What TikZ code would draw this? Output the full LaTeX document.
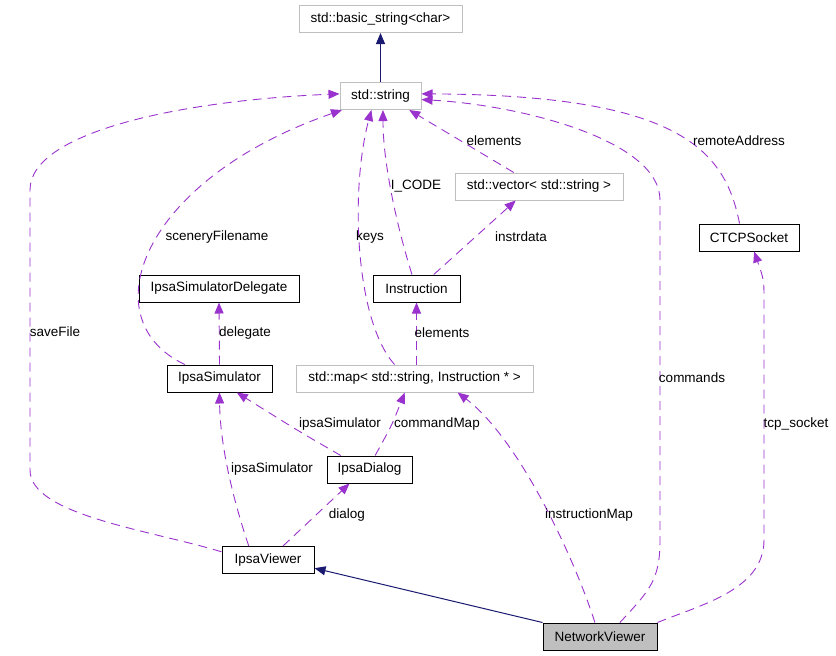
\documentclass[tikz,border=0pt]{standalone}
\usepackage{fontspec}
\setmainfont{Liberation Sans}
\usepackage{tikz}
\usetikzlibrary{arrows.meta,calc}
\definecolor{usage}{HTML}{9A32CD}
\definecolor{inherit}{HTML}{191970}
\definecolor{undoc}{HTML}{BFBFBF}

\begin{document}
\begin{tikzpicture}[x=1pt,y=-1pt,
    font=\fontsize{13.5}{16}\selectfont,
    box/.style={draw=black,line width=1pt,inner sep=0pt,minimum height=27pt},
    ubox/.style={box,draw=undoc},
    lbl/.style={inner sep=0pt},
    use/.style={-{Triangle[length=11pt,width=9pt]},dash pattern=on 9pt off 6pt,color=usage,line width=0.9pt},
    inh/.style={-{Triangle[length=11pt,width=9pt]},color=inherit,line width=1pt}
  ]
  \useasboundingbox (0,0) rectangle (836,656);

  % classes
  \node[ubox,minimum width=163pt] (basicstr) at (380.5,19) {std::basic\_string<char>};
  \node[ubox,minimum width=81pt] (stdstr) at (380.5,96) {std::string};
  \node[ubox,minimum width=168pt] (strvec) at (539,186.5) {std::vector< std::string >};
  \node[box,minimum width=100pt] (ctcp) at (749,237.5) {CTCPSocket};
  \node[box,minimum width=160pt] (simdelegate) at (219,288.5) {IpsaSimulatorDelegate};
  \node[box,minimum width=87pt] (instr) at (416.5,288.5) {Instruction};
  \node[box,minimum width=105pt] (ipsasim) at (219.5,378.5) {IpsaSimulator};
  \node[ubox,minimum width=237pt] (instrmap) at (414.5,378.5) {std::map< std::string, Instruction * >};
  \node[box,minimum width=85pt] (ipsadialog) at (369.5,469.5) {IpsaDialog};
  \node[box,minimum width=92pt] (ipsaviewer) at (268,560) {IpsaViewer};
  \node[box,fill=undoc,minimum width=114pt] (netviewer) at (600,636.5) {NetworkViewer};

  % inheritance
  \draw[inh] (stdstr) -- (basicstr);
  \draw[inh] (netviewer.north west) -- (ipsaviewer.-10);

  % members
  \draw[use] (ipsaviewer.170) .. controls (150,530) and (30,515) .. (30,470) -- (30,190)
    .. controls (30,130) and (190,100) .. (stdstr.177);
  \draw[use] (ipsasim.158) .. controls (90,320) and (140,180) .. (stdstr.200);
  \draw[use] (instrmap.145) .. controls (355,320) and (350,190) .. (stdstr.237);
  \draw[use] (instr.108) .. controls (395,220) and (383,160) .. (stdstr.280);
  \draw[use] (strvec.151) -- (stdstr.334);
  \draw[use] (ctcp.124) .. controls (725,150) and (680,95) .. (stdstr.3);
  \draw[use] (netviewer.110) ++(25,0) .. controls (650,590) and (660,580) .. (660,540) -- (660,200)
    .. controls (660,140) and (520,105) .. (stdstr.355);
  \draw[use] (instr.39) -- (strvec.211);
  \draw[use] (ipsasim.north) -- (simdelegate.south);
  \draw[use] (instrmap.north -| instr.south) -- (instr.south);
  \draw[use] (ipsadialog.154) .. controls (300,432) .. (ipsasim.321);
  \draw[use] (ipsadialog.68) .. controls (392,425) .. (instrmap.235);
  \draw[use] (ipsaviewer.144) .. controls (230,490) and (220,440) .. (ipsasim.south);
  \draw[use] (ipsaviewer.43) -- (ipsadialog.215);
  \draw[use] (netviewer.110) .. controls (575,560) and (520,440) .. (instrmap.342);
  \draw[use] (netviewer.north east) .. controls (700,605) and (764,590) .. (764,540) -- (764,300)
    .. controls (764,280) .. (ctcp.290);

  % member names
  \node[lbl] (lsave) at (55,332) {saveFile};
  \node[lbl] (lscenery) at (217,237) {sceneryFilename};
  \node[lbl] (lkeys) at (370,237) {keys};
  \node[lbl] (lcode) at (416,186) {I\_CODE};
  \node[lbl] (lelem) at (494,141) {elements};
  \node[lbl] (lremote) at (739,141) {remoteAddress};
  \node[lbl] (linstrdata) at (521,237) {instrdata};
  \node[lbl] (ldelegate) at (245,333) {delegate};
  \node[lbl] (lelemmap) at (442,333) {elements};
  \node[lbl] (lsimdlg) at (340,424) {ipsaSimulator};
  \node[lbl] (lcmdmap) at (437,424) {commandMap};
  \node[lbl] (lsimview) at (272,469) {ipsaSimulator};
  \node[lbl] (ldialog) at (347,515) {dialog};
  \node[lbl] (linstrmap) at (589,515) {instructionMap};
  \node[lbl] (lcommands) at (692,378) {commands};
  \node[lbl] (ltcp) at (796,424) {tcp\_socket};
\end{tikzpicture}
\end{document}
